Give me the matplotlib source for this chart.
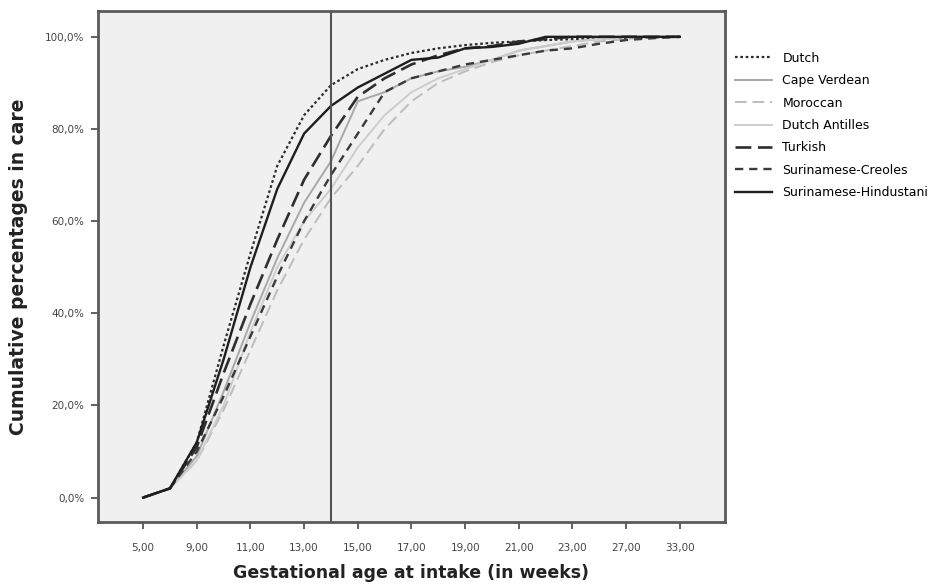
import numpy as np
import matplotlib.pyplot as plt

# gestational weeks present in the data (categorical axis, as in SPSS)
weeks = [5, 8, 9, 10, 11, 12, 13, 14, 15, 16, 17, 18, 19, 20, 21, 22, 23, 25, 27, 30, 33]

dutch = [0, 2, 12, 33, 53, 72, 83, 89.5, 93, 95, 96.5, 97.5, 98.2, 98.7, 99, 99.3, 99.5, 99.7, 99.8, 99.9, 100]
cape_verdean = [0, 2, 9, 23, 38, 52, 64, 73, 86, 88, 91, 92.5, 93.5, 95, 97, 98, 99, 99.5, 100, 100, 100]
moroccan = [0, 2, 8, 19, 32, 45, 56, 65, 72, 80, 86, 90, 92.5, 94.5, 96, 97, 98, 99, 99.5, 100, 100]
dutch_antilles = [0, 2, 8, 20, 36, 50, 60, 67, 76, 83, 88, 91, 93, 95, 97, 98, 99, 99.5, 100, 100, 100]
turkish = [0, 2, 11, 27, 42, 56, 69, 78.5, 87, 91, 94, 96, 97.5, 98, 99, 99.5, 100, 100, 100, 100, 100]
creoles = [0, 2, 10, 22, 35, 48, 60, 70, 79, 88, 91, 92.5, 94, 95, 96, 97, 97.5, 98.5, 99.3, 99.7, 100]
hindustani = [0, 2, 12, 30, 50, 67, 79, 85, 89, 92, 95, 95.5, 97.5, 97.8, 98.5, 100, 100, 100, 100, 100, 100]

cutoff_week = 14

series = [
    ("Dutch", dutch, "#2b2b2b", (0, (1.2, 1.2)), 1.6),
    ("Cape Verdean", cape_verdean, "#a8a8a8", "-", 1.4),
    ("Moroccan", moroccan, "#bcbcbc", (0, (6, 3)), 1.4),
    ("Dutch Antilles", dutch_antilles, "#cdcdcd", "-", 1.4),
    ("Turkish", turkish, "#2e2e2e", (0, (6, 2.5)), 1.9),
    ("Surinamese-Creoles", creoles, "#3a3a3a", (0, (3.5, 2.5)), 1.7),
    ("Surinamese-Hindustani", hindustani, "#1e1e1e", "-", 1.7),
]

fig = plt.figure(figsize=(9.47, 5.86), dpi=100)
ax = fig.add_axes([0.1035, 0.1092, 0.662, 0.872])
ax.set_facecolor("#f0f0f0")

x = np.arange(len(weeks))
for name, vals, col, ls, lw in series:
    ax.plot(x, vals, color=col, linestyle=ls, linewidth=lw, label=name)

ax.axvline(weeks.index(cutoff_week), color="#555555", linewidth=1.5)

ax.set_xlim(-1.68, len(weeks) - 1 + 1.68)
ax.set_ylim(-5.3, 105.6)

ticks = x[::2]
ax.set_xticks(ticks)
ax.set_xticklabels([f"{weeks[i]},00" for i in ticks], fontsize=7.5, color="#444444")
yt = [0, 20, 40, 60, 80, 100]
ax.set_yticks(yt)
ax.set_yticklabels([f"{v},0%" for v in yt], fontsize=7.5, color="#444444")
ax.tick_params(axis="x", length=5, width=1.3, color="#555555", pad=10)
ax.tick_params(axis="y", length=5, width=1.3, color="#555555", pad=5)

for s in ax.spines.values():
    s.set_color("#5a5a5a")
    s.set_linewidth(2)

ax.set_xlabel("Gestational age at intake (in weeks)", fontsize=12.5, fontweight="bold",
              color="#222222", labelpad=8)
ax.set_ylabel("Cumulative percentages in care", fontsize=13.5, fontweight="bold",
              color="#222222", labelpad=12)

ax.legend(loc="upper left", bbox_to_anchor=(1.008, 0.93), frameon=False, fontsize=9,
          handlelength=3.0, handletextpad=0.8, labelspacing=0.75, borderaxespad=0)

fig.savefig("out.png", dpi=100)
